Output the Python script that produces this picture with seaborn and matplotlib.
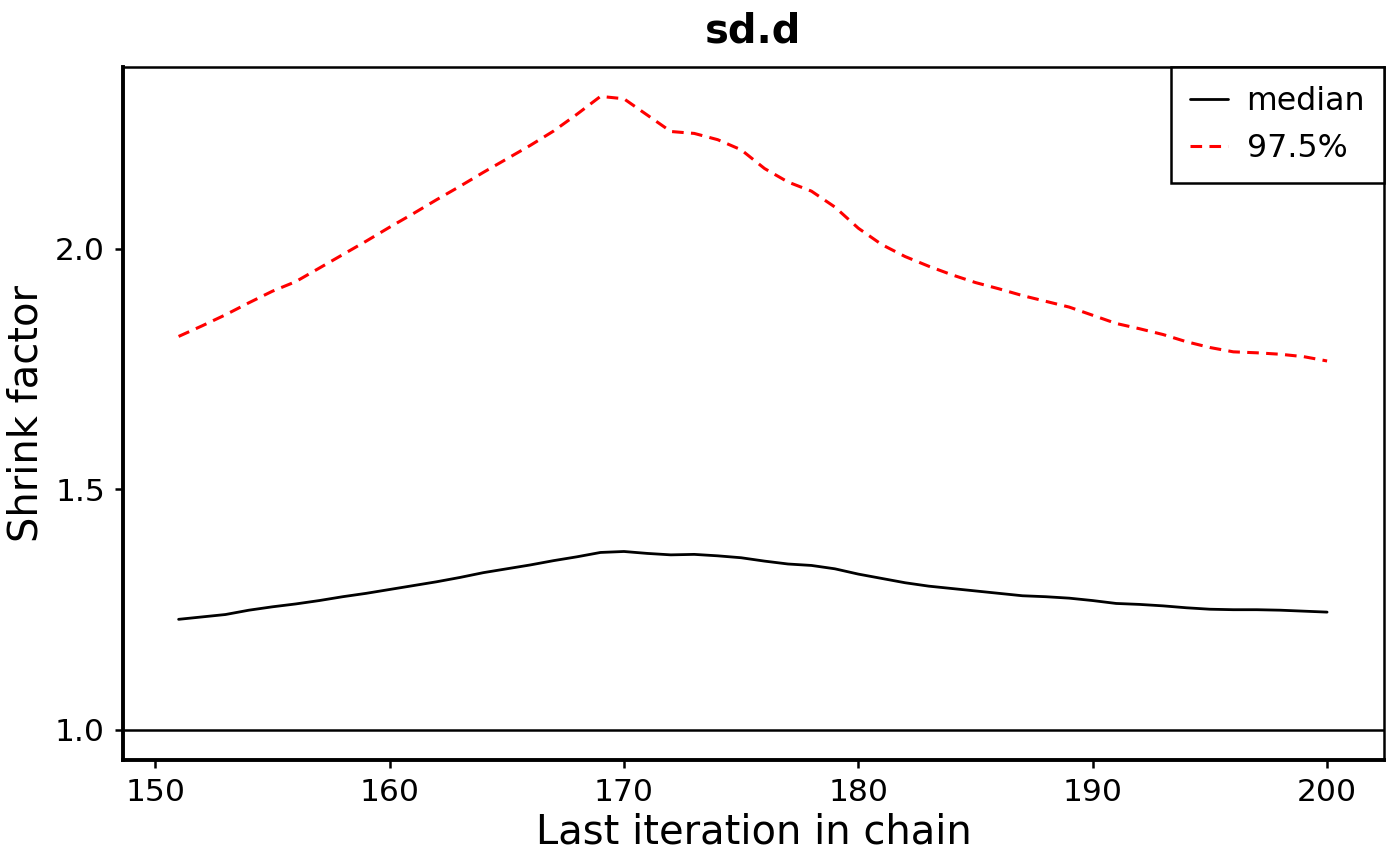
import matplotlib
matplotlib.use("Agg")
import pandas as pd
import matplotlib.pyplot as plt
import seaborn as sns

TITLE = "sd.d"
X_LABEL = "Last iteration in chain"
Y_LABEL = "Shrink factor"

ITERATIONS = list(range(151, 201))

MEDIAN = [
    1.230, 1.235, 1.240, 1.249, 1.256, 1.262, 1.269, 1.277, 1.284, 1.292,
    1.300, 1.308, 1.317, 1.327, 1.335, 1.343, 1.352, 1.360, 1.369, 1.371,
    1.367, 1.364, 1.365, 1.362, 1.358, 1.351, 1.345, 1.342, 1.335, 1.324,
    1.315, 1.306, 1.299, 1.294, 1.289, 1.284, 1.279, 1.277, 1.274, 1.269,
    1.263, 1.261, 1.258, 1.254, 1.251, 1.250, 1.250, 1.249, 1.247, 1.245,
]

UPPER = [
    1.818, 1.840, 1.863, 1.888, 1.912, 1.932, 1.960, 1.988, 2.016, 2.045,
    2.073, 2.102, 2.130, 2.159, 2.187, 2.215, 2.245, 2.280, 2.317, 2.312,
    2.278, 2.244, 2.240, 2.227, 2.206, 2.167, 2.139, 2.120, 2.087, 2.043,
    2.009, 1.984, 1.964, 1.946, 1.930, 1.917, 1.903, 1.891, 1.879, 1.862,
    1.845, 1.834, 1.822, 1.807, 1.795, 1.786, 1.784, 1.781, 1.776, 1.767,
]

X_TICKS = [150, 160, 170, 180, 190, 200]
Y_TICKS = [1.0, 1.5, 2.0]


def main():
    sns.set_style("ticks")
    plt.rcParams["font.family"] = ["DejaVu Sans"]
    plt.rcParams["text.color"] = "black"
    plt.rcParams["axes.labelcolor"] = "black"
    plt.rcParams["xtick.color"] = "black"
    plt.rcParams["ytick.color"] = "black"

    df = pd.DataFrame({"iteration": ITERATIONS, "median": MEDIAN, "upper": UPPER})

    fig = plt.figure(figsize=(7, 4.33), dpi=200)
    ax = fig.add_axes([0.0879, 0.1224, 0.9007, 0.8002])

    sns.lineplot(data=df, x="iteration", y="median", ax=ax, color="black",
                 lw=1.0, label="median")
    sns.lineplot(data=df, x="iteration", y="upper", ax=ax, color="red",
                 lw=1.1, dashes=False, label="97.5%")
    ax.lines[-1].set_dashes((3.8, 2.4))
    ax.axhline(1.0, color="black", lw=0.9)

    ax.set_xlim(148.63, 202.43)
    ax.set_ylim(0.9376, 2.378)
    ax.set_xticks(X_TICKS)
    ax.set_yticks(Y_TICKS)
    ax.set_yticklabels([f"{v:.1f}" for v in Y_TICKS])
    ax.tick_params(axis="both", labelsize=11.3, length=3, width=0.9,
                   direction="out", color="black", labelcolor="black")

    for side in ["left", "bottom"]:
        ax.spines[side].set_linewidth(1.4)
    for side in ["top", "right"]:
        ax.spines[side].set_linewidth(0.9)
    for spine in ax.spines.values():
        spine.set_color("black")

    ax.set_title(TITLE, fontsize=14.4, fontweight="bold", pad=9, color="black")
    ax.set_xlabel(X_LABEL, fontsize=14.4, labelpad=2, color="black")
    ax.set_ylabel(Y_LABEL, fontsize=14.4, labelpad=3, color="black")

    leg = ax.legend(loc="upper right", borderaxespad=0, fancybox=False,
                    edgecolor="black", framealpha=1, fontsize=11.4,
                    handlelength=1.2, handletextpad=0.6, borderpad=0.6,
                    labelspacing=0.5)
    leg.get_frame().set_linewidth(0.9)
    for text in leg.get_texts():
        text.set_color("black")

    fig.savefig("out.png", dpi=200)


if __name__ == "__main__":
    main()
